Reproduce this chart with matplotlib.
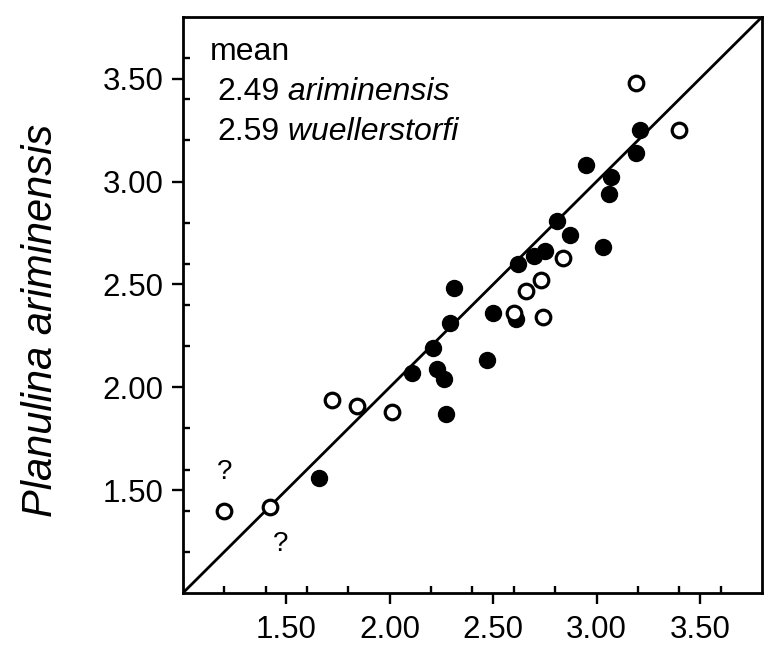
import numpy as np
import matplotlib
matplotlib.use("Agg")
from matplotlib import pyplot as plt
from matplotlib.ticker import FixedLocator, FormatStrFormatter

plt.rcParams["font.family"] = ["Liberation Sans", "DejaVu Sans"]

# DATA
# filled circles
x_filled = [1.66, 2.27, 2.11, 2.23, 2.26, 2.21, 2.29, 2.31, 2.47, 2.50, 2.61,
            2.62, 2.70, 2.75, 2.81, 2.87, 3.03, 2.95, 3.07, 3.06, 3.19, 3.21]
y_filled = [1.56, 1.87, 2.07, 2.09, 2.04, 2.19, 2.31, 2.48, 2.13, 2.36, 2.33,
            2.60, 2.64, 2.66, 2.81, 2.74, 2.68, 3.08, 3.02, 2.94, 3.14, 3.25]
# open circles
x_open = [1.20, 1.42, 1.72, 1.84, 2.01, 2.60, 2.74, 2.66, 2.73, 2.84, 3.19, 3.40]
y_open = [1.40, 1.42, 1.94, 1.91, 1.88, 2.36, 2.34, 2.47, 2.52, 2.63, 3.48, 3.25]
# question marks next to the two lowest points
q_x = [1.20, 1.47]
q_y = [1.59, 1.24]

mean_values = ["2.49", "2.59"]
mean_species = ["ariminensis", "wuellerstorfi"]

lim = (1.0, 3.8)
major = [1.5, 2.0, 2.5, 3.0, 3.5]
minor = [1.2, 1.4, 1.6, 1.8, 2.2, 2.4, 2.6, 2.8, 3.2, 3.4, 3.6]

# FIGURE
fig = plt.figure(figsize=(7.72, 6.53), dpi=100)
ax = fig.add_axes([0.237, 0.092, 0.750, 0.882])

ax.plot(lim, lim, "k-", lw=2.0, zorder=2)
ax.plot(x_filled, y_filled, "o", color="black", ms=11.5, zorder=3)
ax.plot(x_open, y_open, "o", mfc="white", mec="black", mew=2.3, ms=10.5, zorder=4)
for qx, qy in zip(q_x, q_y):
    ax.text(qx, qy, "?", fontsize=20, ha="center", va="center")

ax.set_xlim(*lim)
ax.set_ylim(*lim)
for axis in (ax.xaxis, ax.yaxis):
    axis.set_major_locator(FixedLocator(major))
    axis.set_minor_locator(FixedLocator(minor))
    axis.set_major_formatter(FormatStrFormatter("%.2f"))
ax.tick_params(which="major", direction="out", length=8, width=1.7,
               labelsize=22.5, pad=6)
ax.tick_params(axis="x", which="major", pad=8)
ax.tick_params(which="minor", direction="in", length=5, width=1.7)
for s in ax.spines.values():
    s.set_linewidth(2.0)

ax.set_ylabel("Planulina ariminensis", fontsize=30, style="italic")
ax.yaxis.set_label_coords(-0.211, 0.474)

# MEAN ANNOTATION
ax.text(0.0466, 0.925, "mean", fontsize=23, transform=ax.transAxes,
        va="baseline")
for i, (val, sp) in enumerate(zip(mean_values, mean_species)):
    t = ax.text(0.0587, 0.856 - 0.07 * i, val, fontsize=23,
                transform=ax.transAxes, va="baseline")
    ax.annotate(" " + sp, xy=(1, 0), xycoords=t, fontsize=23,
                style="italic", va="bottom", ha="left")

plt.savefig("out.png", dpi=100)
plt.close("all")
